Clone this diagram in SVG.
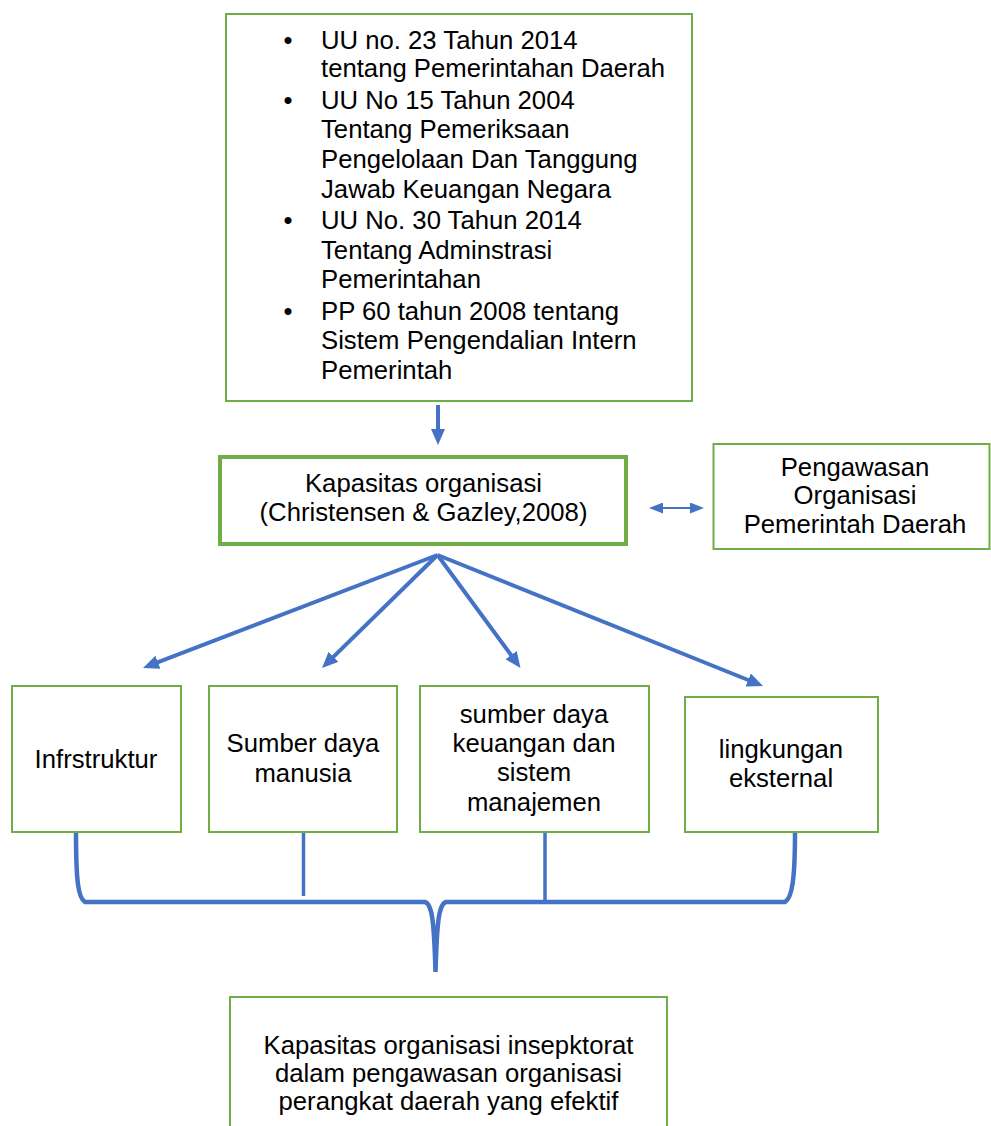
<svg xmlns="http://www.w3.org/2000/svg" width="991" height="1126" viewBox="0 0 991 1126">
<style>
text{font-family:"Liberation Sans",Arial,sans-serif;font-size:25.7px;fill:#000}
.c{text-anchor:middle}
.box{fill:#fff;stroke:#70AD47;stroke-width:2}
.thick{stroke-width:4}
.arr{stroke:#4472C4;stroke-width:4;fill:none}
.brace{stroke:#4472C4;stroke-width:4.5;fill:none}
.thin{stroke:#4472C4;stroke-width:2;fill:none}
.ln{stroke:#4472C4;stroke-width:3.5;fill:none}
</style>
<defs>
<marker id="ah" viewBox="0 0 16 14" refX="4" refY="7" markerWidth="16" markerHeight="14" markerUnits="userSpaceOnUse" orient="auto">
<path d="M0,0 L16,7 L0,14 z" fill="#4472C4"/>
</marker>
<marker id="as" viewBox="0 0 14 11" refX="2" refY="5.5" markerWidth="14" markerHeight="11" markerUnits="userSpaceOnUse" orient="auto-start-reverse">
<path d="M0,0 L14,5.5 L0,11 z" fill="#4472C4"/>
</marker>
</defs>
<g id="connectors">
<line class="arr" x1="438" y1="405" x2="438" y2="433" marker-end="url(#ah)"/>
<line class="thin" x1="661" y1="508" x2="692" y2="508" marker-start="url(#as)" marker-end="url(#as)"/>
<line class="arr" x1="437.5" y1="555" x2="154.2" y2="663.7" marker-end="url(#ah)"/>
<line class="arr" x1="437.5" y1="555" x2="330.6" y2="659.6" marker-end="url(#ah)"/>
<line class="arr" x1="437.5" y1="555" x2="513.4" y2="658.3" marker-end="url(#ah)"/>
<line class="arr" x1="437.5" y1="555" x2="751.9" y2="681.5" marker-end="url(#ah)"/>
<path class="brace" d="M76 832 C76 880 78 898 85 902 L425 902 C432 904 434 920 435.5 972 C437 920 439 904 446 902 L785 902 C792 898 795 880 795 832"/>
<line class="ln" x1="303.5" y1="832" x2="303.5" y2="896"/>
<line class="ln" x1="545" y1="827" x2="545" y2="902"/>
</g>
<g id="laws">
<rect class="box" x="226" y="14" width="466" height="387"/>
<text class="c" x="288" y="49">•</text>
<text class="c" x="288" y="109">•</text>
<text class="c" x="288" y="229">•</text>
<text class="c" x="288" y="320">•</text>
<text x="321" y="49">UU no. 23 Tahun 2014</text>
<text x="321" y="77">tentang Pemerintahan Daerah</text>
<text x="321" y="109">UU No 15 Tahun 2004</text>
<text x="321" y="138">Tentang Pemeriksaan</text>
<text x="321" y="168">Pengelolaan Dan Tanggung</text>
<text x="321" y="198">Jawab Keuangan Negara</text>
<text x="321" y="229">UU No. 30 Tahun 2014</text>
<text x="321" y="259">Tentang Adminstrasi</text>
<text x="321" y="288">Pemerintahan</text>
<text x="321" y="320">PP 60 tahun 2008 tentang</text>
<text x="321" y="349">Sistem Pengendalian Intern</text>
<text x="321" y="379">Pemerintah</text>
</g>
<g id="kapasitas">
<rect class="box thick" x="220" y="457" width="406" height="87"/>
<text class="c" x="423.5" y="492">Kapasitas organisasi</text>
<text class="c" x="423.5" y="521">(Christensen &amp; Gazley,2008)</text>
</g>
<g id="pengawasan">
<rect class="box" x="713.5" y="444" width="276" height="105"/>
<text class="c" x="855" y="476">Pengawasan</text>
<text class="c" x="855" y="504">Organisasi</text>
<text class="c" x="855" y="533">Pemerintah Daerah</text>
</g>
<g id="infrastruktur">
<rect class="box" x="12" y="686" width="169" height="146"/>
<text class="c" x="96" y="768">Infrstruktur</text>
</g>
<g id="sdm">
<rect class="box" x="209" y="686" width="188" height="146"/>
<text class="c" x="303" y="752">Sumber daya</text>
<text class="c" x="303" y="782">manusia</text>
</g>
<g id="keuangan">
<rect class="box" x="420" y="686" width="229" height="146"/>
<text class="c" x="534" y="723">sumber daya</text>
<text class="c" x="534" y="752">keuangan dan</text>
<text class="c" x="534" y="781">sistem</text>
<text class="c" x="534" y="811">manajemen</text>
</g>
<g id="lingkungan">
<rect class="box" x="685" y="697" width="193" height="135"/>
<text class="c" x="781" y="758">lingkungan</text>
<text class="c" x="781" y="787">eksternal</text>
</g>
<g id="hasil">
<rect class="box" x="230" y="997" width="437" height="140"/>
<text class="c" x="448.5" y="1054">Kapasitas organisasi insepktorat</text>
<text class="c" x="448.5" y="1082">dalam pengawasan organisasi</text>
<text class="c" x="448.5" y="1110">perangkat daerah yang efektif</text>
</g>
</svg>
